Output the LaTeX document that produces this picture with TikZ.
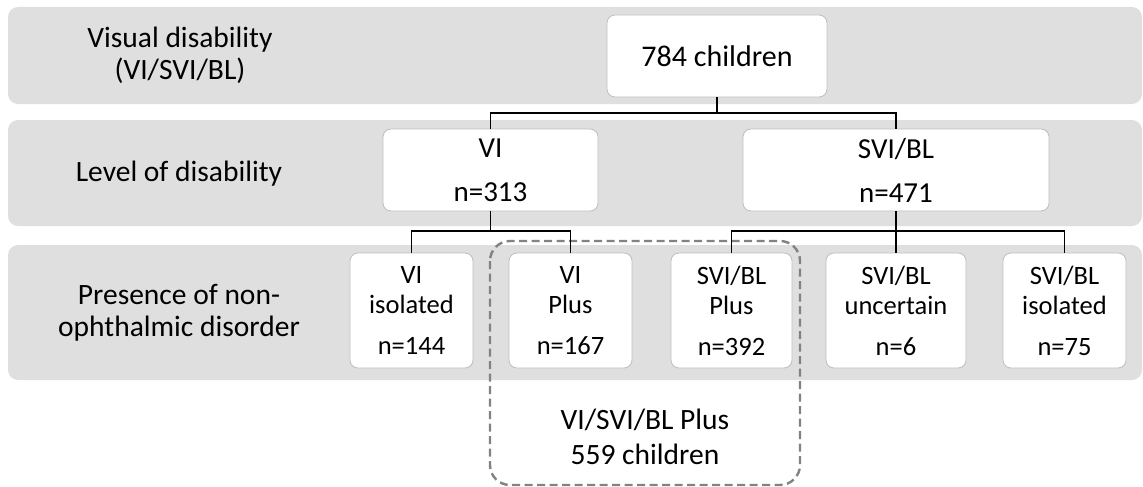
\documentclass[tikz,border=0pt]{standalone}
\usepackage{fontspec}
\setmainfont{Carlito}
\definecolor{bandgray}{RGB}{223,223,223}
\definecolor{boxline}{RGB}{190,190,190}
\definecolor{dashgray}{RGB}{130,130,130}
\begin{document}
\begin{tikzpicture}[x=1pt,y=-1pt,
  band/.style={fill=bandgray, draw=none, rounded corners=10pt},
  box/.style={draw=boxline, fill=white, line width=0.8pt, rounded corners=8pt,
    inner sep=0pt, align=center, text=black},
  boxA/.style={box, font=\fontsize{30}{36}\selectfont},
  boxB/.style={box, minimum height=82pt, font=\fontsize{29}{44}\selectfont},
  boxC/.style={box, minimum height=115pt, font=\fontsize{26.5}{30}\selectfont},
  lbl/.style={align=center, inner sep=0pt, font=\fontsize{29.5}{32}\selectfont},
  conn/.style={draw=black, line width=1.8pt},
  grp/.style={draw=dashgray, line width=2.4pt, dash pattern=on 8pt off 4.5pt, rounded corners=20pt}
]
\useasboundingbox (0,0) rectangle (1143,487);
% bands
\fill[band] (8,7) rectangle (1142,104);
\fill[band] (8,120) rectangle (1142,226);
\fill[band] (8,245) rectangle (1142,380);
% left labels
\node[lbl] (l1) at (180,55) {Visual disability\\(VI/SVI/BL)};
\node[lbl] (l2) at (179,173.5) {Level of disability};
\node[lbl] (l3) at (179,313) {Presence of non-\\ophthalmic disorder};
% dashed group
\draw[grp] (490,241) rectangle (800,485);
\node[lbl, font=\fontsize{29.5}{35}\selectfont] (grplbl) at (645,437) {VI/SVI/BL Plus\\559 children};
% boxes
\node[boxA, minimum width=220pt, minimum height=82pt] (top) at (717,56) {784 children};
\node[boxB, minimum width=215pt] (vi) at (490.5,170) {VI\\n=313};
\node[boxB, minimum width=306pt] (svi) at (896,170) {SVI/BL\\n=471};
\node[boxC, minimum width=123pt] (viiso) at (411.5,310.5) {VI\\isolated\\[11pt]n=144};
\node[boxC, minimum width=123pt] (viplus) at (570.5,310.5) {VI\\Plus\\[11pt]n=167};
\node[boxC, minimum width=121pt] (sviplus) at (731.5,310.5) {SVI/BL\\Plus\\[11pt]n=392};
\node[boxC, minimum width=140pt] (sviunc) at (896,310.5) {SVI/BL\\uncertain\\[11pt]n=6};
\node[boxC, minimum width=123pt] (sviiso) at (1064.5,310.5) {SVI/BL\\isolated\\[11pt]n=75};
% junctions
\coordinate (j1) at (717,113);
\coordinate (j2) at (490.5,231);
\coordinate (j3) at (896,231);
% connectors
\draw[conn] (top.south) -- (j1);
\draw[conn] (vi.north) |- (j1) -| (svi.north);
\draw[conn] (vi.south) -- (j2);
\draw[conn] (viiso.north) |- (j2) -| (viplus.north);
\draw[conn] (svi.south) -- (j3);
\draw[conn] (sviplus.north) |- (j3) -| (sviiso.north);
\draw[conn] (j3) -- (sviunc.north);
\end{tikzpicture}
\end{document}
